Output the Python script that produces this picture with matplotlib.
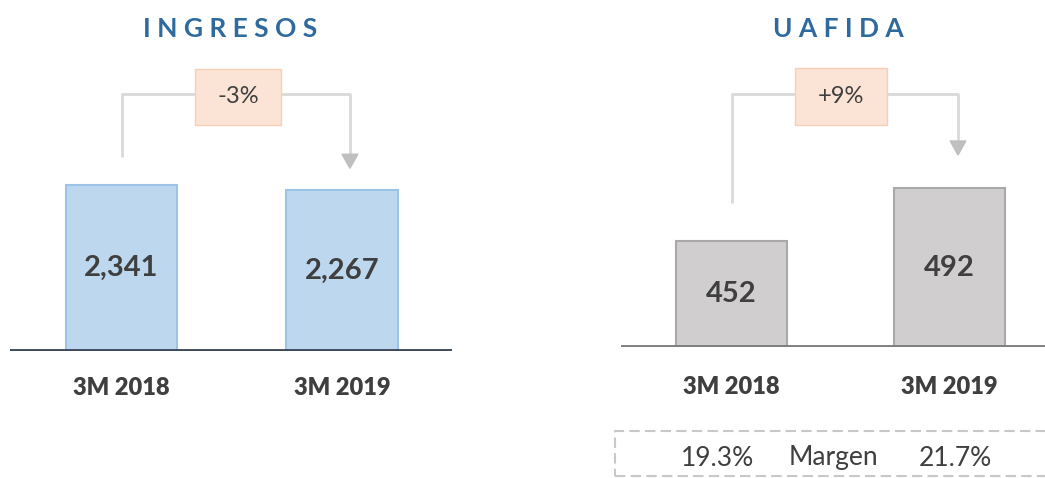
import matplotlib
matplotlib.use("Agg")
import matplotlib.pyplot as plt
from matplotlib.patches import Rectangle, Polygon
from matplotlib.transforms import offset_copy

plt.rcParams['font.family'] = ['Lato', 'DejaVu Sans']

categories = ["3M 2018", "3M 2019"]
ingresos = [2341, 2267]
uafida = [452, 492]
ingresos_labels = ["2,341", "2,267"]
uafida_labels = ["452", "492"]
ingresos_change = "-3%"
uafida_change = "+9%"
margins = ["19.3%", "21.7%"]
margin_label = "Margen"

W, H = 1045, 478
fig = plt.figure(figsize=(W / 100, H / 100), dpi=100)

def px_axes(x0, x1, ytop, ybot):
    return fig.add_axes([x0 / W, 1 - ybot / H, (x1 - x0) / W, (ybot - ytop) / H])

title_color = "#2F6A9E"
text_dark = "#3F3F3F"
line_gray = "#D9D9D9"
arrow_gray = "#BFBFBF"

def draw_panel(ax, values, labels, ylim, xlim, fill, edge, base_color, change,
               start_off, tip_off, right_dx, bracket_y, box_w, box_h, box_cx,
               tip_h, label_px):
    x = [0, 1]
    ax.bar(x, values, width=0.505, color=fill, edgecolor=edge, linewidth=1.5,
           zorder=3)
    ax.set_xlim(*xlim)
    ax.set_ylim(*ylim)
    for s in ax.spines.values():
        s.set_visible(False)
    ax.set_yticks([])
    ax.set_xticks([])
    ax.axhline(ylim[0], color=base_color, linewidth=2.8, zorder=4)
    for xi, v, lab in zip(x, values, labels):
        ax.text(xi, v - (v - ylim[0]) * 0.5, lab, ha="center", va="center",
                fontsize=21, fontweight="bold", color=text_dark, zorder=5)
    tr = offset_copy(ax.get_xaxis_transform(), fig=fig, y=-label_px * 72 / 100,
                     units="points")
    for xi, c in zip(x, categories):
        ax.text(xi, 0, c, transform=tr, ha="center", va="center",
                fontsize=17, fontweight="heavy", color=text_dark)
    # bracket
    y_start = values[0] + start_off
    y_tip = values[1] + tip_off
    xr = 1 + right_dx
    ax.plot([0, 0, box_cx - box_w / 2], [y_start, bracket_y, bracket_y],
            color=line_gray, lw=2, clip_on=False, zorder=2, solid_capstyle="butt")
    ax.plot([box_cx + box_w / 2, xr, xr], [bracket_y, bracket_y, y_tip + tip_h],
            color=line_gray, lw=2, clip_on=False, zorder=2, solid_capstyle="butt")
    ax.add_patch(Polygon([[xr - 0.036, y_tip + tip_h], [xr + 0.036, y_tip + tip_h],
                          [xr, y_tip]], closed=True, color=arrow_gray,
                         clip_on=False, zorder=3))
    ax.add_patch(Rectangle((box_cx - box_w / 2, bracket_y - box_h * 0.55), box_w, box_h,
                           facecolor="#FBE3D6", edgecolor="#F7CFB6", lw=1,
                           clip_on=False, zorder=3))
    ax.text(box_cx, bracket_y - box_h * 0.05, change, ha="center", va="center",
            fontsize=17, color=text_dark, zorder=4)

# Left panel: pixel layout baseline y=351, bar centers 121.5 / 342
ax1 = px_axes(10, 452, 20, 351)
yl1 = (0, 2341 * (351 - 20) / 166)
pu1 = 2341 / 166  # data units per pixel
draw_panel(ax1, ingresos, ingresos_labels, yl1, (-0.506, 1.499),
           "#BDD7EE", "#9DC3E6", "#3E4A5C", ingresos_change,
           start_off=28 * pu1, tip_off=(192 - 170) * pu1, right_dx=0.036,
           bracket_y=(351 - 94) * pu1, box_w=86 / 220.5, box_h=56 * pu1,
           box_cx=(238 - 121.5) / 220.5, tip_h=14 * pu1, label_px=37)

# Right panel: baseline y=347, bar centers 731.5 / 949.5
ax2 = px_axes(621, 1045, 20, 347)
pu2 = 80 / 106
yl2 = (372, 372 + (347 - 20) * pu2)
draw_panel(ax2, uafida, uafida_labels, yl2, (-0.507, 1.438),
           "#D0CECE", "#A9A9A9", "#7F7F7F", uafida_change,
           start_off=(241 - 203) * pu2, tip_off=(188 - 155) * pu2, right_dx=0.039,
           bracket_y=372 + (347 - 94) * pu2, box_w=92 / 218, box_h=57 * pu2,
           box_cx=(841 - 731.5) / 218, tip_h=14 * pu2, label_px=40)

# Titles
fig.text(230 / W, 1 - 29 / H, "I N G R E S O S", ha="center", va="center",
         fontsize=19, fontweight="bold", color=title_color)
fig.text(838 / W, 1 - 29 / H, "U A F I D A", ha="center", va="center",
         fontsize=19, fontweight="bold", color=title_color)

# Margin box
fig.patches.append(Rectangle((615 / W, 1 - 476 / H), 0.5, (476 - 431) / H,
                             transform=fig.transFigure, fill=False,
                             edgecolor="#C8C8C8", lw=1.5, linestyle=(0, (5, 2.5)),
                             figure=fig))
ym = 1 - 458 / H
fig.text(718 / W, ym, margins[0], ha="center", va="center", fontsize=19,
         color=text_dark)
fig.text(833 / W, ym, margin_label, ha="center", va="center", fontsize=19,
         color=text_dark)
fig.text(955 / W, ym, margins[1], ha="center", va="center", fontsize=19,
         color=text_dark)

fig.savefig("out.png", dpi=100)
